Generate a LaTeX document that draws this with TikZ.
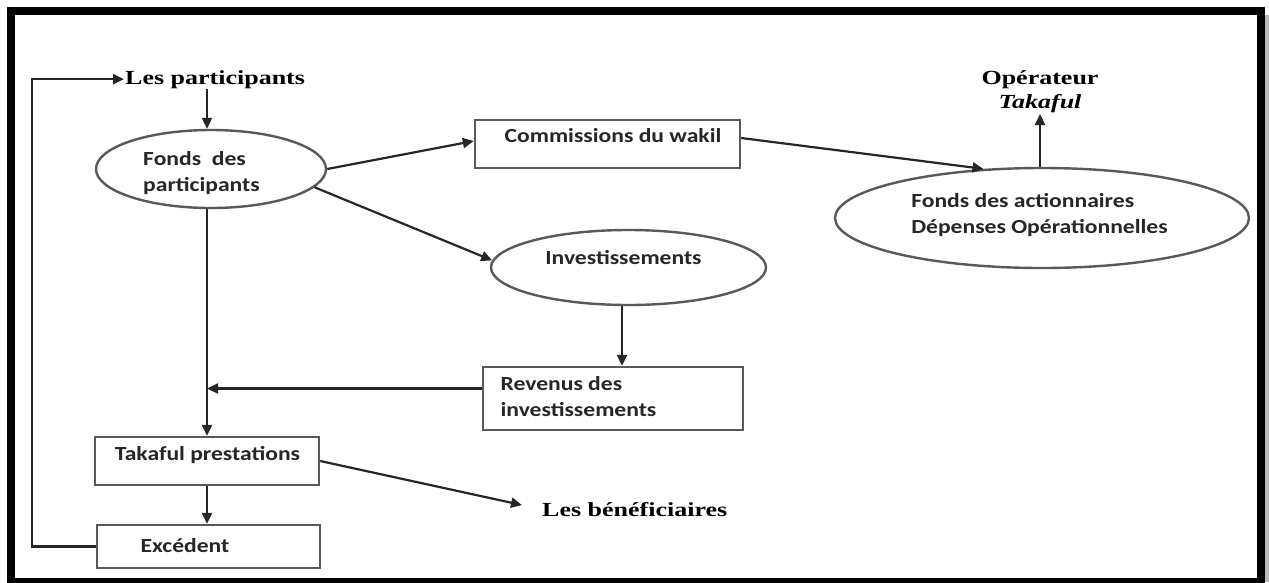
\documentclass[tikz,border=0pt]{standalone}
\usepackage{fontspec}
\setmainfont{Liberation Serif}[FakeStretch=1.3]
\newfontfamily\cbfont{Carlito}[FakeStretch=1.18]
\usetikzlibrary{arrows.meta,shapes.geometric}
\tikzset{
  conn/.style={draw=black!85, line width=2.2pt},
  arr/.style={conn, -{Triangle[length=11pt,width=10pt]}},
  boxnode/.style={draw=black!65, line width=2.4pt, rectangle, inner sep=0pt},
  ellnode/.style={draw=black!65, line width=2.4pt, ellipse, inner sep=0pt},
  lbl/.style={font=\cbfont\bfseries\fontsize{20}{26}\selectfont, text=black!85, align=left, inner sep=0pt},
  ttl/.style={font=\bfseries\fontsize{20}{24}\selectfont, text=black, inner sep=1pt},
}
\begin{document}
\begin{tikzpicture}[x=1pt,y=-1pt]
\useasboundingbox (0,0) rectangle (1269,582);
\fill[white] (0,0) rectangle (1269,582);

% coordinates for straight vertical runs
\coordinate (vx) at (207,0);
\coordinate (lp) at (32,0);
\coordinate (ix) at (622,0);

% shapes
\node[ellnode, minimum width=230pt, minimum height=78pt,
      label={[lbl,xshift=-9.5pt,yshift=-4.5pt]center:Fonds\ \ des\\participants}] (fp) at (211,169) {};
\node[boxnode, minimum width=265pt, minimum height=48pt,
      label={[lbl,xshift=5.5pt,yshift=8pt]center:Commissions du wakil}] (comm) at (607.5,144) {};
\node[ellnode, minimum width=275pt, minimum height=75pt,
      label={[lbl,xshift=-5pt,yshift=9.5pt]center:Investissements}] (inv) at (628.5,267.5) {};
\node[ellnode, minimum width=414pt, minimum height=100pt,
      label={[lbl,xshift=-2.5pt,yshift=3pt]center:Fonds des actionnaires\\Dépenses Opérationnelles}] (fa) at (1042,218) {};
\node[boxnode, minimum width=260pt, minimum height=63pt,
      label={[lbl,xshift=-34.5pt,yshift=1.5pt]center:Revenus des\\investissements}] (rev) at (613,398.5) {};
\node[boxnode, minimum width=224pt, minimum height=48pt,
      label={[lbl,xshift=0.5pt,yshift=6pt]center:Takaful prestations}] (tp) at (207,461) {};
\node[boxnode, minimum width=223pt, minimum height=43pt,
      label={[lbl,xshift=-23.5pt,yshift=0.5pt]center:Excédent}] (exc) at (208.5,546.5) {};

% free texts
\node[ttl, anchor=base west] (parts) at (124,84) {Les participants};
\node[ttl, anchor=base west] (ben) at (541,516) {Les bénéficiaires};
\node[ttl, anchor=south, align=center] (op) at (1040,114) {Opérateur\\ \textit{Takaful}};

% connectors
\draw[arr] (exc.west) -- (exc.west -| lp) |- (parts.west);
\draw[arr] (vx |- parts.south) -- (vx |- fp.north);
\draw[arr] (fp.east) -- ([yshift=3pt]comm.west);
\draw[arr] (fp.-10) -- (inv.177);
\draw[arr] ([yshift=6pt]comm.east) -- (fa.140);
\draw[arr] (op.south |- fa.north) -- (op.south);
\draw[arr] (ix |- inv.south) -- (ix |- rev.north);
\draw[arr] ([yshift=10pt]rev.west) -- ([yshift=10pt]rev.west -| vx);
\draw[arr] (vx |- fp.south) -- (vx |- tp.north);
\draw[arr] (vx |- tp.south) -- (vx |- exc.north);
\draw[arr] (tp.east) -- ([xshift=-19pt,yshift=4pt]ben.west);

% outer frame
\fill[gray!55] (1264.5,15) rectangle (1269,582);
\draw[line width=8pt, black] (11,11) rectangle (1260.5,582);
\end{tikzpicture}
\end{document}
